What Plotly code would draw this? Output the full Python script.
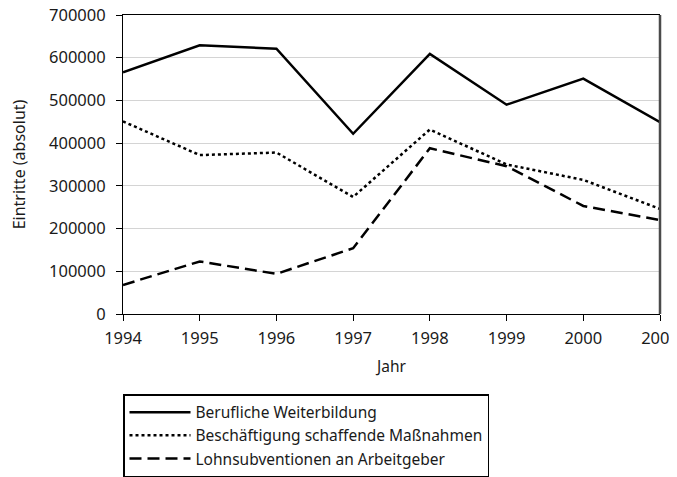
import plotly.graph_objects as go

years = [1994, 1995, 1996, 1997, 1998, 1999, 2000, 2001]
berufliche_weiterbildung = [566000, 629000, 621000, 422000, 609000, 490000, 551000, 449000]
beschaeftigung_schaffende = [451000, 372000, 378000, 274000, 432000, 350000, 314000, 246000]
lohnsubventionen = [68000, 123000, 94000, 154000, 388000, 346000, 253000, 220000]

series_names = [
    "Berufliche Weiterbildung",
    "Beschäftigung schaffende Maßnahmen",
    "Lohnsubventionen an Arbeitgeber",
]
y_ticks = [0, 100000, 200000, 300000, 400000, 500000, 600000, 700000]

FONT = "Noto Sans"
FS = 16.5

fig = go.Figure()
fig.add_trace(go.Scatter(x=years, y=berufliche_weiterbildung, mode="lines",
                         name=series_names[0], line=dict(color="#000000", width=2.5, dash="solid")))
fig.add_trace(go.Scatter(x=years, y=beschaeftigung_schaffende, mode="lines",
                         name=series_names[1], line=dict(color="#000000", width=2.5, dash="dot")))
fig.add_trace(go.Scatter(x=years, y=lohnsubventionen, mode="lines",
                         name=series_names[2], line=dict(color="#000000", width=2.5, dash="12px,6px")))

fig.update_layout(
    width=677, height=477,
    margin=dict(l=115, r=25, t=7, b=171, autoexpand=False),
    paper_bgcolor="white", plot_bgcolor="white",
    font=dict(family=FONT, size=FS, color="#1a1a1a"),
    showlegend=True,
    legend=dict(
        x=0.0, xanchor="left", y=-0.268, yanchor="top",
        bordercolor="#000000", borderwidth=1.5,
        font=dict(family=FONT, size=15.5, color="#1a1a1a"),
        itemwidth=61, tracegroupgap=0,
    ),
)

fig.update_xaxes(
    range=[1994, 2001], tickvals=years, ticktext=[str(y) for y in years],
    showline=True, linecolor="#000000", linewidth=1, mirror=True,
    ticks="outside", ticklen=6, tickcolor="#000000", ticklabelstandoff=3,
    ticklabeloverflow="allow",
    showgrid=False, zeroline=False, automargin=False,
    title=dict(text="Jahr", standoff=13, font=dict(family=FONT, size=FS - 1)),
    tickfont=dict(family=FONT, size=FS),
)
fig.update_yaxes(
    range=[0, 700000], tickvals=y_ticks, tickformat="d",
    showline=True, linecolor="#000000", linewidth=1,
    ticks="outside", ticklen=6, tickcolor="#000000", ticklabelstandoff=7,
    ticklabeloverflow="allow",
    showgrid=True, gridcolor="#d4d4d4", gridwidth=1, zeroline=False, automargin=False,
    title=dict(text="Eintritte (absolut)", standoff=22, font=dict(family=FONT, size=FS - 0.5)),
    tickfont=dict(family=FONT, size=FS),
)

# right border of plot frame (darker grey, slightly thicker)
fig.add_shape(type="line", xref="paper", yref="paper", x0=1, x1=1, y0=0, y1=1,
              line=dict(color="#4a4a4a", width=2.5))

fig.write_html("out.html")
